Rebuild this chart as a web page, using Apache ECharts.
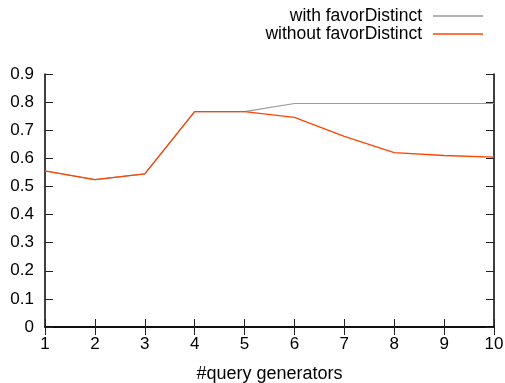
<!DOCTYPE html>
<html><head><meta charset="utf-8">
<script src="https://cdn.jsdelivr.net/npm/echarts@6/dist/echarts.min.js"></script>
<style>html,body{margin:0;padding:0;background:#fff}#c{width:505px;height:383px}</style>
</head><body><div id="c"></div>
<script>
const xValues = [1, 2, 3, 4, 5, 6, 7, 8, 9, 10];
const withFavor = [0.555, 0.524, 0.545, 0.766, 0.766, 0.795, 0.795, 0.795, 0.795, 0.795];
const withoutFavor = [0.555, 0.524, 0.545, 0.766, 0.766, 0.746, 0.678, 0.620, 0.610, 0.604];
const seriesNames = ['with favorDistinct', 'without favorDistinct'];
const xName = '#query generators';

const font = 'Liberation Sans, Arial, sans-serif';
const chart = echarts.init(document.getElementById('c'), null, {renderer: 'canvas'});
const pair = (ys) => xValues.map((x, i) => [x, ys[i]]);
const axisLine = {show: true, lineStyle: {color: '#000', width: 1.5}};
const tick = {show: true, inside: true, length: 8, lineStyle: {color: '#222', width: 1}};
chart.setOption({
  animation: false,
  grid: {left: 45, right: 11, top: 74, bottom: 56, containLabel: false, outerBoundsMode: 'none'},
  legend: {
    orient: 'vertical', right: 22, top: 7, align: 'right', padding: 0,
    itemWidth: 50, itemHeight: 1.5, itemGap: 0,
    icon: 'rect',
    textStyle: {fontFamily: font, fontSize: 17.5, color: '#000', lineHeight: 18, padding: [0, 6, 0, 0]},
    data: seriesNames
  },
  xAxis: [{
    type: 'value', min: 1, max: 10, interval: 1, position: 'bottom',
    name: xName, nameLocation: 'middle', nameGap: 38,
    nameTextStyle: {fontFamily: font, fontSize: 18, color: '#000'},
    axisLine: axisLine, axisTick: tick, splitLine: {show: false},
    axisLabel: {fontFamily: font, fontSize: 17, color: '#000', margin: 9}
  }, {
    type: 'value', min: 1, max: 10, interval: 1, position: 'top',
    axisLine: axisLine, axisTick: tick, splitLine: {show: false},
    axisLabel: {show: false}
  }],
  yAxis: [{
    type: 'value', min: 0, max: 0.9, interval: 0.1, position: 'left',
    axisLine: axisLine, axisTick: tick, splitLine: {show: false},
    axisLabel: {fontFamily: font, fontSize: 17, color: '#000', margin: 11}
  }, {
    type: 'value', min: 0, max: 0.9, interval: 0.1, position: 'right',
    axisLine: axisLine, axisTick: tick, splitLine: {show: false},
    axisLabel: {show: false}
  }],
  series: [{
    name: seriesNames[0], type: 'line', data: pair(withFavor),
    showSymbol: false, symbol: 'none',
    lineStyle: {color: '#999999', width: 1.2}, itemStyle: {color: '#999999'}, z: 2
  }, {
    name: seriesNames[1], type: 'line', data: pair(withoutFavor),
    showSymbol: false, symbol: 'none',
    lineStyle: {color: '#ff4500', width: 1.3}, itemStyle: {color: '#ff4500'}, z: 3
  }]
});
</script></body></html>
